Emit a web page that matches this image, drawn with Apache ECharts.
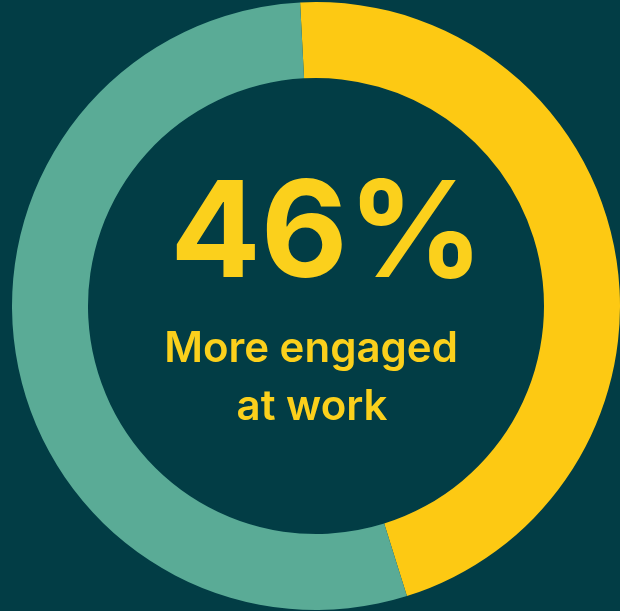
<!DOCTYPE html>
<html>
<head>
<meta charset="utf-8">
<title>More engaged at work</title>
<script src="https://cdn.jsdelivr.net/npm/echarts@6/dist/echarts.min.js"></script>
<style>
  html, body { margin: 0; padding: 0; background: #023d45; }
  #chart { width: 620px; height: 611px; }
</style>
</head>
<body>
<div id="chart"></div>
<script>
// Share of respondents: engaged vs. the rest
const categories = ['More engaged at work', 'Other'];
const shares = [46, 54];
const sliceColors = ['#fdc913', '#5aab96'];
const headline = shares[0] + '%';
const captionLines = ['More engaged', 'at work'];

const chart = echarts.init(document.getElementById('chart'), null, { renderer: 'canvas' });

chart.setOption({
  backgroundColor: '#023d45',
  animation: false,
  series: [{
    type: 'pie',
    silent: true,
    center: [316, 306],
    radius: [228, 304],
    startAngle: 93,
    clockwise: true,
    label: { show: false },
    labelLine: { show: false },
    itemStyle: { borderWidth: 0 },
    emphasis: { disabled: true },
    data: categories.map((name, i) => ({
      name,
      value: shares[i],
      itemStyle: { color: sliceColors[i] }
    }))
  }],
  graphic: [
    {
      type: 'text',
      x: 327, y: 237,
      style: {
        text: headline,
        fill: '#fbd01c',
        font: '700 134px Inter, "Noto Sans", sans-serif',
        textAlign: 'center',
        textVerticalAlign: 'middle'
      }
    },
    {
      type: 'text',
      x: 311, y: 349,
      style: {
        text: captionLines[0],
        fill: '#fbd01c',
        font: '600 42px Inter, "Noto Sans", sans-serif',
        textAlign: 'center',
        textVerticalAlign: 'middle'
      }
    },
    {
      type: 'text',
      x: 312, y: 407,
      style: {
        text: captionLines[1],
        fill: '#fbd01c',
        font: '600 42px Inter, "Noto Sans", sans-serif',
        textAlign: 'center',
        textVerticalAlign: 'middle'
      }
    }
  ]
});
</script>
</body>
</html>
